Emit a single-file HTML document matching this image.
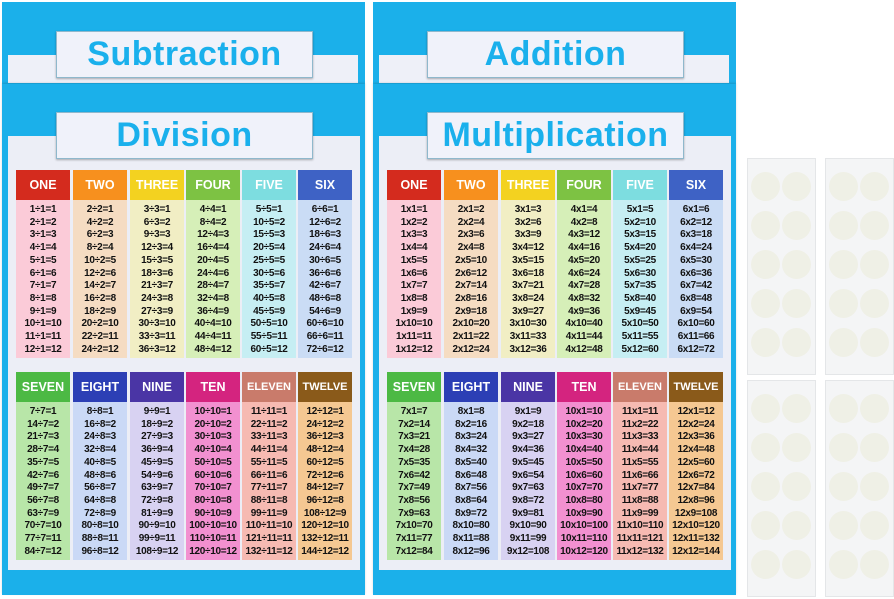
<!DOCTYPE html><html><head><meta charset="utf-8"><style>
body{margin:0;width:894px;height:599px;background:#fff;position:relative;overflow:hidden;font-family:"Liberation Sans",sans-serif}
.a{position:absolute}
.blue{background:#1bb0ea}
.strip{background:#eef0f8}
.tbox{background:#f0f2fa;border:1px solid #8fb8cc;box-shadow:0 1px 2px rgba(0,0,0,.3);color:#1ab0ec;font-weight:bold;text-align:center;font-size:34px;line-height:44px;letter-spacing:0.5px}
.panel{background:#eceef6}
.hd{color:#fff;font-weight:bold;font-size:12.5px;text-align:center;line-height:30px}
.bd{font-weight:bold;font-size:10px;color:#111;text-align:center;line-height:12.7px;padding-top:4px;box-sizing:border-box;white-space:nowrap;letter-spacing:-0.3px}
.sheet{background:#f4f5f6;border:1px solid #e4e6e8}
.dot{position:absolute;width:29px;height:29px;border-radius:50%;background:#eff0e6}
</style></head><body>
<div id="r"></div>
<script>
var r=document.getElementById('r'),h='';
function d(x,y,w,hh,c,s,t){h+='<div class="a '+c+'" style="left:'+x+'px;top:'+y+'px;width:'+w+'px;height:'+hh+'px;'+(s||'')+'">'+(t||'')+'</div>';}
var names=['ONE','TWO','THREE','FOUR','FIVE','SIX','SEVEN','EIGHT','NINE','TEN','ELEVEN','TWELVE'];
var hc=['#d42b1e','#f7901e','#f3d220','#7dc243','#7ddde0','#3e62c5','#4cb944','#2c3fb5','#4a35a5','#d4247f','#c97b6b','#8a5a1a'];
var bc=['#fbcbd8','#f5dcc2','#f1eec4','#d6efb8','#c6eef3','#cadcf5','#b8e6a8','#cad9f6','#d8d2f2','#f290d0','#f6bab2','#f5c892'];
function poster(x0,back,front,op){
 d(x0,2,363,82,'blue');
 d(x0+6,55,350,28,'strip');
 d(x0+54,31,255,45,'tbox','',back);
 d(x0,84,363,511,'blue','box-shadow:0 -1px 2px rgba(0,0,0,.15)');
 d(x0+6,136,352,434,'panel');
 d(x0+54,112,255,45,'tbox','',front);
 var xs=[14,71,128,184,240,296];
 for(var b=0;b<2;b++){var y=b?372:170;
  for(var i=0;i<6;i++){var n=b*6+i,t='';
   for(var k=1;k<=12;k++){var s=op=='d'?(n+1)*k+'÷'+(n+1)+'='+k:(n+1)+'x'+k+'='+((n+1)*k);t+=s+'<br>';}
   d(x0+xs[i],y,54,30,'hd','background:'+hc[n]+';'+(n==10||n==11?'font-size:11px;':''),names[n]);
   d(x0+xs[i],y+30,54,158,'bd','background:'+bc[n],t);}}
}
poster(2,'Subtraction','Division','d');
poster(373,'Addition','Multiplication','m');
var sx=[747,825],sy=[158,380];
for(var a=0;a<2;a++)for(var b=0;b<2;b++){d(sx[a],sy[b],67,215,'sheet');
 for(var i=0;i<5;i++)for(var j=0;j<2;j++)h+='<div class="dot" style="left:'+(sx[a]+4+j*31)+'px;top:'+(sy[b]+14+i*39)+'px"></div>';}
r.innerHTML=h;
</script></body></html>
